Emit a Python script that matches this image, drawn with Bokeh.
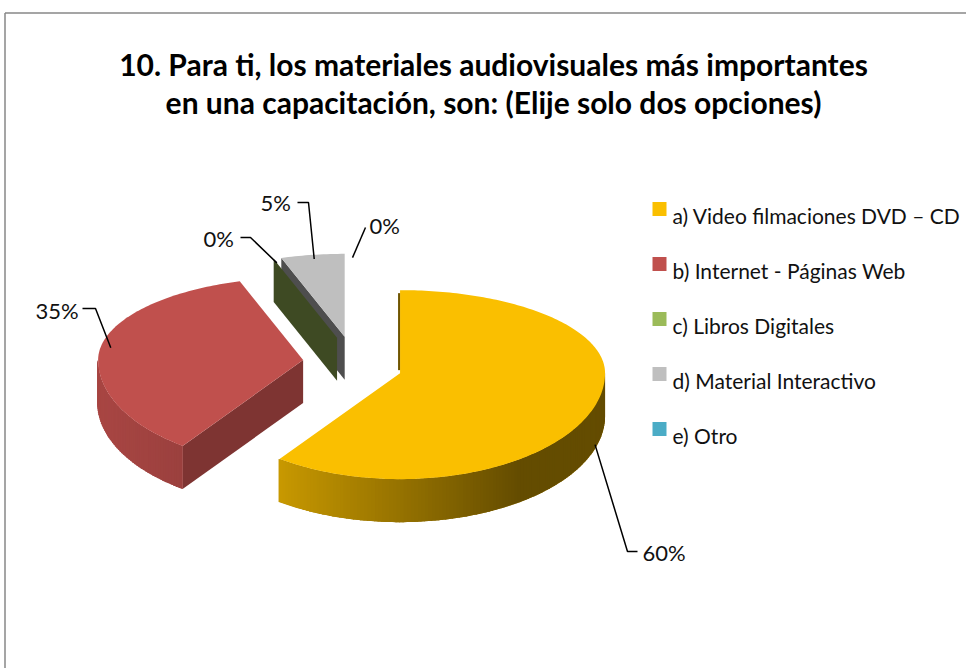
import numpy as np
from bokeh.plotting import figure
from bokeh.models import Range1d, ColumnDataSource
from bokeh.core.properties import value
from bokeh.embed import file_html
from bokeh.resources import INLINE

# ---------------- data ----------------
title_lines = ["10. Para ti, los materiales audiovisuales más importantes",
               "en una capacitación, son: (Elije solo dos opciones)"]
categories = ["a) Video filmaciones DVD – CD", "b) Internet - Páginas Web",
              "c) Libros Digitales", "d) Material Interactivo", "e) Otro"]
shares = [60, 35, 0, 5, 0]
pct_labels = ["60%", "35%", "0%", "5%", "0%"]

# ---------------- styles / layout ----------------
colors = ["#FABF00", "#C0504D", "#9BBB59", "#BFBFBF", "#4BACC6"]
face_shade = [0.45, 0.66, 0.40, 0.41, 0.45]
wall_shade = [(0.80, 0.40), (0.88, 0.81), (0.6, 0.5), (0.6, 0.5), (0.6, 0.5)]
FONT = "Lato"
W, H = 966, 668
CX, CY = 352.0, 364.0        # pie centre (screen px)
RX, R_FAR, R_NEAR = 205.0, 83.0, 106.0
DEPTH = 43.0
EX, EY = 50.0, 28.0          # explosion offsets
# label layout: text x, text baseline y, elbow x, elbow y, knee x
label_layout = [(642, 552, 637, 551, 627),
                (35, 310, 82, 308, 95),
                (203, 238, 240, 237, 250),
                (260, 202, 297, 202, 308),
                (369, 225, 365, 227, 365)]
legend_x, legend_sq_y0, legend_txt_y0, legend_dy = 652, 208.5, 215, 55

p = figure(width=W, height=H, x_range=Range1d(0, W), y_range=Range1d(H, 0),
           x_axis_location=None, y_axis_location=None, toolbar_location=None,
           output_backend="svg", min_border=0, outline_line_color=None)
p.grid.visible = False
p.background_fill_color = "white"

# chart border (top and left edges are visible in the crop)
p.segment(x0=[4.5, 4.5], y0=[12.5, 12.5], x1=[4.5, W], y1=[H, 12.5],
          line_color="#878787", line_width=1.5)


def hex2rgb(h):
    h = h.lstrip("#")
    return np.array([int(h[i:i + 2], 16) for i in (0, 2, 4)], dtype=float)


def shade(h, f):
    c = np.clip(hex2rgb(h) * f, 0, 255).astype(int)
    return "#%02x%02x%02x" % tuple(c)


def rim(ax, ay, th_deg, k=1.0):
    th = np.radians(th_deg)
    c = np.cos(th)
    r = np.where(c > 0, R_FAR, R_NEAR)
    return ax + k * RX * np.sin(th), ay - k * r * c


total = float(sum(shares))
starts = np.concatenate([[0], np.cumsum(shares)[:-1]]) / total * 360.0
ends = np.cumsum(shares) / total * 360.0

polys = {"xs": [], "ys": [], "c": [], "z": []}


def add(xs, ys, col, z):
    polys["xs"].append(list(map(float, xs)))
    polys["ys"].append(list(map(float, ys)))
    polys["c"].append(col)
    polys["z"].append(z)


anchors = []
apexes = []
for i, (a1, a2) in enumerate(zip(starts, ends)):
    beta = 0.5 * (a1 + a2)
    b = np.radians(beta)
    ax, ay = CX + EX * np.sin(b), CY - EY * np.cos(b)
    apexes.append((ax, ay))
    base_z = -np.cos(b)  # nearer slices drawn later
    # radial faces
    for a, vis in ((a1, np.sin(np.radians(a1)) < -1e-9), (a2, np.sin(np.radians(a2)) > 1e-9)):
        if vis:
            rx_, ry_ = rim(ax, ay, a)
            add([ax, rx_, rx_, ax], [ay, ry_, ry_ + DEPTH, ay + DEPTH],
                shade(colors[i], face_shade[i]), base_z + 0.001 * i)
    # outer wall (visible where cos < 0), drawn as a shaded base + gradient strips
    w1, w2 = max(a1, 90.0), min(a2, 270.0)
    if w2 > w1:
        n = max(int((w2 - w1) / 1.0), 2)
        th = np.linspace(w1, w2, n + 1)
        xs, ys = rim(ax, ay, th)
        l, d = wall_shade[i]
        add(np.concatenate([xs, xs[::-1]]), np.concatenate([ys, ys[::-1] + DEPTH]),
            shade(colors[i], 0.5 * (l + d)), base_z + 0.002 + 0.001 * i)
        xmin, xmax = xs.min(), xs.max()
        sgn = 1.0 if xs[-1] > xs[0] else -1.0
        for k in range(n):
            xm = 0.5 * (xs[k] + xs[k + 1])
            if i == 0:
                t = np.clip((xm - xmin) / (520 - xmin), 0, 1)
            else:
                t = (xm - xmin) / max(xmax - xmin, 1)
            f = l + (d - l) * t
            add([xs[k], xs[k + 1] + sgn * 1.0, xs[k + 1] + sgn * 1.0, xs[k]],
                [ys[k], ys[k + 1], ys[k + 1] + DEPTH, ys[k] + DEPTH],
                shade(colors[i], f), base_z + 0.003 + 0.001 * i)
    # top surface
    if a2 > a1:
        th = np.linspace(a1, a2, max(int(a2 - a1), 2) + 1)
        xs, ys = rim(ax, ay, th)
        add(np.concatenate([[ax], xs]), np.concatenate([[ay], ys]), colors[i],
            base_z + 0.005 + 0.001 * i)
    # label anchor on rim at bisector
    if np.cos(b) < 0:
        bx, by = rim(ax, ay, beta, 1.0)
        by = by + DEPTH * 0.9
    else:
        bx, by = rim(ax, ay, beta, 0.95)
    anchors.append((float(bx), float(by)))

order = np.argsort(polys["z"], kind="stable")
src = ColumnDataSource({k: [polys[k][j] for j in order] for k in ("xs", "ys", "c")})
p.patches("xs", "ys", source=src, fill_color="c", line_color=None)

# thin visible edge of the yellow slice's start face
ax0, ay0 = apexes[0]
tx, ty = rim(ax0, ay0, starts[0])
p.line([float(tx) - 1, ax0 - 1], [float(ty) + 3, ay0 - 3],
       line_color=shade(colors[0], 0.45), line_width=2)

# leader lines and labels
lx, ly = [], []
for (bx, by), (tx, ty, ex_, ey_, kx) in zip(anchors, label_layout):
    lx.append([ex_, kx, bx])
    ly.append([ey_, ey_, by])
p.multi_line(lx, ly, line_color="black", line_width=1.5)
p.text(x=[t[0] for t in label_layout], y=[t[1] for t in label_layout], text=pct_labels,
       text_font=value(FONT), text_font_size="22px", text_baseline="alphabetic",
       text_align="left", text_color="#111111")

# legend
n_cat = len(categories)
p.rect(x=[legend_x + 7] * n_cat, y=[legend_sq_y0 + legend_dy * k for k in range(n_cat)],
       width=14, height=14, fill_color=colors, line_color=None)
p.text(x=[legend_x + 20] * n_cat, y=[legend_txt_y0 + legend_dy * k for k in range(n_cat)],
       text=categories, text_font=value(FONT), text_font_size="21px",
       text_baseline="alphabetic", text_align="left", text_color="#111111")

# title
p.text(x=[493, 493], y=[63, 101], text=title_lines, text_font=value(FONT),
       text_font_size="30px", text_font_style="bold", text_baseline="alphabetic",
       text_align="center", text_color="black")

open("out.html", "w").write(file_html(p, INLINE))
